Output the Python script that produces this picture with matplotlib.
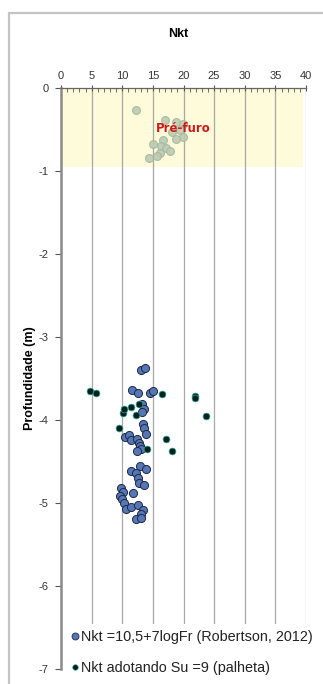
import matplotlib
matplotlib.use("Agg")
import matplotlib.pyplot as plt
from matplotlib.patches import Rectangle
from matplotlib.lines import Line2D
from matplotlib.ticker import MultipleLocator

plt.rcParams['font.family'] = ['Liberation Sans', 'DejaVu Sans']
plt.rcParams['axes.unicode_minus'] = False

# Pre-furo points (Nkt, depth)
pre_x = [12.2, 16.9, 18.8, 19.9, 19.5, 18.2, 19.9, 18.8, 16.7, 15.0, 16.4, 17.1, 17.8, 16.1, 15.7, 14.4]
pre_y = [-0.26, -0.38, -0.40, -0.43, -0.50, -0.53, -0.59, -0.61, -0.62, -0.67, -0.70, -0.72, -0.75, -0.78, -0.82, -0.84]

# Nkt = 10,5 + 7 log Fr (Robertson, 2012)
rob_x = [13.1, 13.7, 11.6, 12.5, 14.5, 15.0, 13.3, 13.5, 13.2,
         13.4, 13.6, 13.9, 10.4, 11.1, 11.5, 12.4, 12.8, 12.9, 13.1, 12.4,
         11.4, 12.9, 13.9, 12.3, 12.6, 12.8, 13.5,
         9.8, 10.1, 11.7, 9.6, 9.9, 10.3, 10.6, 11.5, 12.6, 13.4, 13.1, 12.2, 13.1]
rob_y = [-3.39, -3.37, -3.63, -3.67, -3.67, -3.64, -3.80, -3.86, -3.90,
         -4.04, -4.09, -4.16, -4.20, -4.18, -4.23, -4.22, -4.27, -4.31, -4.34, -4.37,
         -4.61, -4.55, -4.58, -4.63, -4.69, -4.75, -4.78,
         -4.81, -4.86, -4.87, -4.91, -4.95, -5.00, -5.07, -5.04, -5.02, -5.08, -5.13, -5.19, -5.17]

# Nkt adotando Su = 9 (palheta)
pal_x = [4.8, 5.7, 10.2, 10.3, 11.5, 12.7, 12.3, 9.4, 14.1, 16.5, 17.1, 18.2, 21.8, 21.9, 23.7]
pal_y = [-3.65, -3.67, -3.91, -3.86, -3.84, -3.80, -3.93, -4.09, -4.35, -3.68, -4.22, -4.37, -3.70, -3.73, -3.95]

W, H = 323, 684
fig = plt.figure(figsize=(W / 100, H / 100), dpi=100)
fig.patch.set_facecolor('white')

# outer frame
fig.patches.append(Rectangle((8.5 / W, -0.2), 1.5, 1.2 - 13.5 / H, transform=fig.transFigure,
                             fill=False, edgecolor='#c4c4c4', linewidth=1.6, zorder=0))

ax = fig.add_axes([61 / W, 1 - 669.5 / H, 245 / W, (669.5 - 88.3) / H])
ax.set_xlim(0, 40)
ax.set_ylim(-7, 0)

# shading pre-furo
ax.add_patch(Rectangle((0, -0.95), 39.5, 0.95, facecolor='#fdfbd9', edgecolor='none', zorder=0))

for gx in range(5, 45, 5):
    ax.axvline(gx, color='#a8a8a8', linewidth=0.9, zorder=1)

ax.scatter(pre_x, pre_y, s=32, facecolor='#bccbb4', edgecolor='#a7b79e', linewidth=0.8, alpha=0.9, zorder=2)
ax.text(19.9, -0.48, 'Pré-furo', color='#d01818', fontsize=8.5, fontweight='bold',
        ha='center', va='center', family=['DejaVu Sans'], zorder=3)

ax.scatter(rob_x, rob_y, s=34, facecolor='#5676b4', edgecolor='#1c2a48', linewidth=0.7, zorder=3)
ax.scatter(pal_x, pal_y, s=24, facecolor='#08201c', edgecolor='#2aa89c', linewidth=0.5, zorder=4)

ax.xaxis.tick_top()
ax.xaxis.set_major_locator(MultipleLocator(5))
ax.xaxis.set_minor_locator(MultipleLocator(1))
ax.yaxis.set_major_locator(MultipleLocator(1))
ax.set_xticks(range(0, 45, 5))
ax.set_yticks(range(-7, 1))
ax.tick_params(axis='x', which='major', direction='inout', length=5, width=0.8, color='#555555',
               labelsize=8, labelcolor='#333333', pad=3)
ax.tick_params(axis='x', which='minor', direction='in', length=3, width=0.6, color='#555555')
ax.tick_params(axis='y', which='major', direction='out', length=4, width=0.8, color='#555555',
               labelsize=8, labelcolor='#333333', pad=5)
for s in ['right', 'bottom']:
    ax.spines[s].set_visible(False)
ax.spines['left'].set_color('#8a8a8a')
ax.spines['left'].set_linewidth(1.8)
ax.spines['top'].set_color('#666666')
ax.spines['top'].set_linewidth(0.9)

fig.text(178 / W, 1 - 34 / H, 'Nkt', ha='center', va='center', fontsize=9, fontweight='bold')
fig.text(30 / W, 1 - 378 / H, 'Profundidade (m)', ha='center', va='center', rotation=90,
         fontsize=9, fontweight='bold')

handles = [Line2D([], [], linestyle='none', marker='o', markersize=5, markerfacecolor='#5676b4',
                  markeredgecolor='#1c2a48', markeredgewidth=0.6),
           Line2D([], [], linestyle='none', marker='o', markersize=4, markerfacecolor='#08201c',
                  markeredgecolor='#2aa89c', markeredgewidth=0.4)]
labels = ['Nkt =10,5+7logFr (Robertson, 2012)', 'Nkt adotando Su =9 (palheta)']
leg = fig.legend(handles, labels, loc='upper left', bbox_to_anchor=(64 / W, 1 - 624 / H),
                 bbox_transform=fig.transFigure, frameon=True, fontsize=10.4, handlelength=0.6,
                 handletextpad=0.15, labelspacing=1.15, borderpad=0.45, borderaxespad=0)
leg.get_frame().set_facecolor('white')
leg.get_frame().set_edgecolor('none')
leg.get_frame().set_alpha(1)
leg.set_zorder(10)
for t in leg.get_texts():
    t.set_color('#222222')

fig.savefig('out.png', dpi=100, facecolor='white')
